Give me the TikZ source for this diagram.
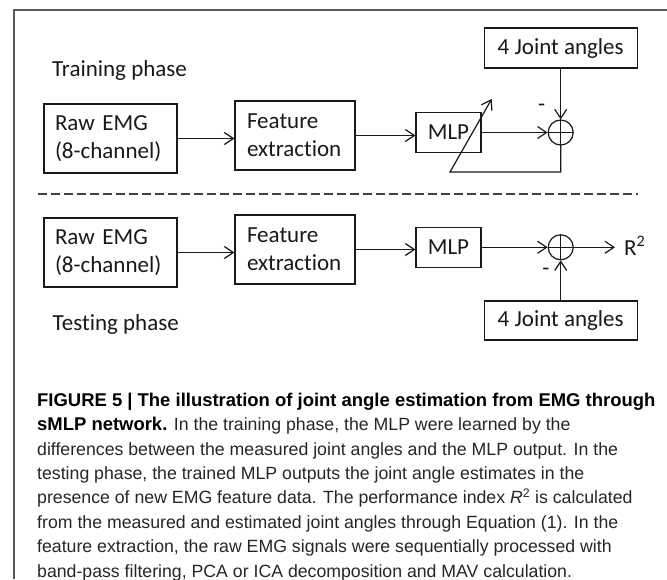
\documentclass[tikz,border=0pt]{standalone}
\usepackage{fontspec}
\setmainfont{Carlito}[Ligatures=NoCommon]
\newfontfamily\capfont{Liberation Sans}
\usetikzlibrary{arrows.meta}
\newcommand{\capbold}[1]{{\fontsize{18.45}{24.5}\selectfont\bfseries\color{black}#1}}
\begin{document}
\begin{tikzpicture}[x=1pt,y=-1pt,
  box/.style={draw=black!90, line width=1.2pt, inner sep=0pt},
  lbl/.style={font=\fontsize{23}{28}\selectfont, text=black!90},
  arr/.style={draw=black!90, line width=1.2pt, -{Straight Barb[length=9pt,width=12pt,line width=1.2pt]}},
  plain/.style={draw=black!90, line width=1.2pt},
  sumnode/.style={draw=black!90, circle, line width=1.2pt, minimum size=25pt, inner sep=0pt},
  sep/.style={draw=black!75, line width=1.8pt, dash pattern=on 8.5pt off 4.5pt},
  frame/.style={draw=black!65, line width=1.6pt}]
\useasboundingbox (0,0) rectangle (667,579);

% frame
\draw[frame] (14,579) -- (14,10) -- (667,10);

% ---------- training phase ----------
\node[lbl, anchor=base west, inner sep=0pt] (trainlbl) at (52,76.5) {Training phase};
\node[box, lbl, minimum width=133pt, minimum height=69pt, text width=111pt, align=left] (raw1) at (110.5,138.5) {Raw EMG\\(8-channel)};
\node[box, lbl, minimum width=120pt, minimum height=69pt, text width=96pt, align=left] (feat1) at (295,135.5) {Feature\\extraction};
\node[box, lbl, minimum width=65pt, minimum height=40pt] (mlp1) at (448.5,132.5) {MLP};
\node[box, lbl, minimum width=153pt, minimum height=40pt] (ja1) at (560.7,48) {4 Joint angles};
\node[sumnode] (sum1) at (560.7,132.5) {};
\draw[plain] (sum1.north) -- (sum1.south) (sum1.west) -- (sum1.east);
\node[lbl, inner sep=0pt] (minus1) at (541.7,108) {-};
\coordinate (fbc) at (450,172);
\coordinate (fbtip) at (491.7,99);

\draw[arr] (raw1.east) -- (raw1.east -| feat1.west);
\draw[arr] (feat1.east) -- (feat1.east -| mlp1.west);
\draw[arr] (mlp1.east |- sum1.west) -- (sum1.west);
\draw[arr] (ja1.south) -- (sum1.north);
\draw[arr] (sum1.south) |- (fbc) -- (fbtip);

% separator
\coordinate (sepL) at (38,194);
\coordinate (sepR) at (638,194);
\draw[sep] (sepL) -- (sepR);

% ---------- testing phase ----------
\node[box, lbl, minimum width=133pt, minimum height=69pt, text width=111pt, align=left] (raw2) at (110.5,252.5) {Raw EMG\\(8-channel)};
\node[box, lbl, minimum width=120pt, minimum height=69pt, text width=96pt, align=left] (feat2) at (295,249.5) {Feature\\extraction};
\node[box, lbl, minimum width=65pt, minimum height=40pt] (mlp2) at (448.5,247.3) {MLP};
\node[sumnode] (sum2) at (560.7,247.3) {};
\draw[plain] (sum2.north) -- (sum2.south) (sum2.west) -- (sum2.east);
\node[box, lbl, minimum width=153pt, minimum height=39pt] (ja2) at (560.7,320.5) {4 Joint angles};
\node[lbl, inner sep=0pt] (minus2) at (545.8,271.7) {-};
\node[lbl, anchor=west, inner sep=0pt] (r2) at (624,246) {R\textsuperscript{2}};
\node[lbl, anchor=base west, inner sep=0pt] (testlbl) at (52.5,330) {Testing phase};

\draw[arr] (raw2.east) -- (raw2.east -| feat2.west);
\draw[arr] (feat2.east) -- (feat2.east -| mlp2.west);
\draw[arr] (mlp2.east |- sum2.west) -- (sum2.west);
\draw[arr] (ja2.north) -- (sum2.south);
\draw[arr] (sum2.east) -- ([xshift=-9pt]r2.west |- sum2.east);

% ---------- caption ----------
\node[anchor=base west, inner sep=0pt] (caption) at (37,393) {\parbox[t]{628pt}{\raggedright\capfont\fontsize{17.7}{24.4}\selectfont
\color{black!85}\capbold{FIGURE 5 | The illustration of joint angle estimation from EMG through}\\
\capbold{sMLP network.} In the training phase, the MLP were learned by the\\
differences between the measured joint angles and the MLP output. In the\\
testing phase, the trained MLP outputs the joint angle estimates in the\\
presence of new EMG feature data. The performance index \textit{R}\textsuperscript{2} is calculated\\
from the measured and estimated joint angles through Equation (1). In the\\
feature extraction, the raw EMG signals were sequentially processed with\\
band-pass filtering, PCA or ICA decomposition and MAV calculation.}};
\end{tikzpicture}
\end{document}
